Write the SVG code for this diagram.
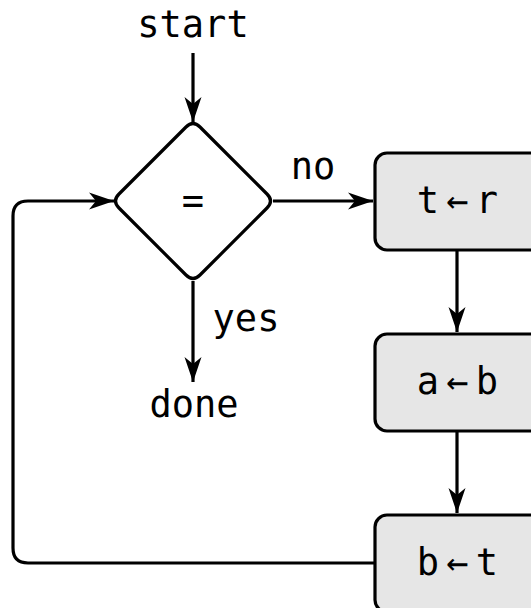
<svg xmlns="http://www.w3.org/2000/svg" width="531" height="608" viewBox="0 0 531 608">
<style>
text{font-family:"DejaVu Sans Mono","Liberation Mono",monospace;font-size:37px;fill:#000;text-anchor:middle}
.box{fill:#e6e6e6;stroke:#000;stroke-width:3.2}
.dia{fill:#fff;stroke:#000;stroke-width:3.2;stroke-linejoin:round}
.edge{fill:none;stroke:#000;stroke-width:3.2;marker-end:url(#ah)}
</style>
<defs>
<marker id="ah" markerUnits="userSpaceOnUse" viewBox="-26 -9 28 18" refX="0" refY="0" markerWidth="28" markerHeight="18" orient="auto">
<path d="M0,0 L-25,-8.5 L-18,0 L-25,8.5 Z" fill="#000"/>
</marker>
</defs>
<rect width="531" height="608" fill="#fff"/>
<g id="connectors">
<path class="edge" d="M193,53 V122"/>
<path class="edge" d="M273,201 H373"/>
<path class="edge" d="M193,281 V382"/>
<path class="edge" d="M457,251 V332"/>
<path class="edge" d="M457,432 V513"/>
<path class="edge" d="M375,563 H28 Q13,563 13,548 V216 Q13,201 28,201 H114"/>
<text x="313" y="179">no</text>
<text x="246" y="331">yes</text>
</g>
<g id="start"><text x="193" y="37">start</text></g>
<g id="test">
<path class="dia" d="M186,127 Q193,120 200,127 L267,194 Q274,201 267,208 L200,275 Q193,282 186,275 L119,208 Q112,201 119,194 Z"/>
<text x="193" y="213">=</text>
</g>
<g id="done"><text x="194" y="417">done</text></g>
<g id="step1">
<rect class="box" x="375" y="153" width="170" height="97" rx="12"/>
<text x="428 457.5 487" y="213">t←r</text>
</g>
<g id="step2">
<rect class="box" x="375" y="334" width="170" height="97" rx="12"/>
<text x="428 457.5 487" y="394">a←b</text>
</g>
<g id="step3">
<rect class="box" x="375" y="515" width="170" height="97" rx="12"/>
<text x="428 457.5 487" y="575">b←t</text>
</g>
</svg>
